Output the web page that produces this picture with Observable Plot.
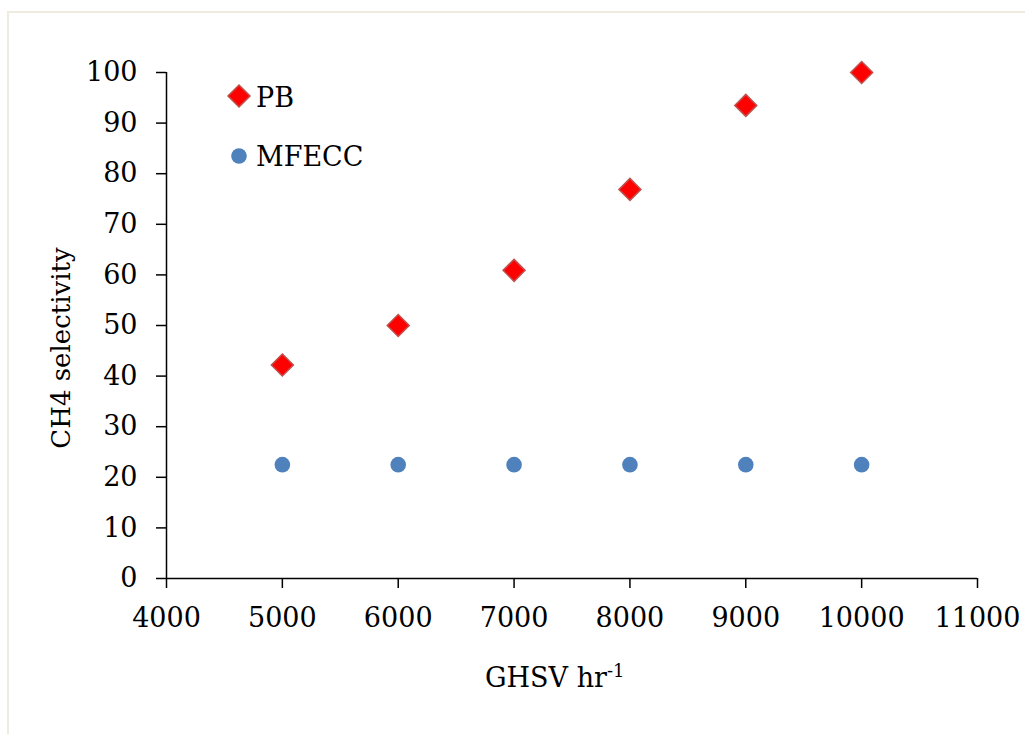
<!DOCTYPE html>
<html>
<head>
<meta charset="utf-8">
<script src="https://cdn.jsdelivr.net/npm/d3@7"></script>
<script src="https://cdn.jsdelivr.net/npm/@observablehq/plot@0.6"></script>
<style>
  html, body { margin: 0; padding: 0; background: #fff; }
  #wrap { position: relative; width: 1025px; height: 734px; overflow: hidden; }
  #frame { position: absolute; left: 7px; top: 11px; width: 1040px; height: 760px; border: 2px solid #eeebdf; box-sizing: border-box; }
  #chart { position: absolute; left: 0; top: 0; }
</style>
</head>
<body>
<div id="wrap"><div id="frame"></div><div id="chart"></div></div>
<script>
const ghsv = [5000, 6000, 7000, 8000, 9000, 10000];
const pbValues = [42.2, 50.0, 60.9, 76.9, 93.5, 100.0];
const mfeccValues = [22.5, 22.5, 22.5, 22.5, 22.5, 22.5];
const xTickValues = [4000, 5000, 6000, 7000, 8000, 9000, 10000, 11000];
const yTickValues = [0, 10, 20, 30, 40, 50, 60, 70, 80, 90, 100];
const seriesNames = ["PB", "MFECC"];
const xTitle = "GHSV hr";
const xTitleSup = "-1";
const yTitle = "CH4 selectivity";

const pb = ghsv.map((x, i) => ({x, y: pbValues[i]}));
const mfecc = ghsv.map((x, i) => ({x, y: mfeccValues[i]}));

const FONT = "DejaVu Serif";
const fmt = d => String(d);

const chart = Plot.plot({
  width: 1025,
  height: 734,
  marginLeft: 166,
  marginRight: 48,
  marginTop: 72,
  marginBottom: 156,
  style: {fontFamily: FONT, fontSize: "27px", color: "black", background: "transparent", overflow: "visible"},
  x: {domain: [4000, 11000]},
  y: {domain: [0, 100]},
  marks: [
    Plot.axisX({ticks: xTickValues, tickSize: 10, tickPadding: 19, tickFormat: fmt, label: null, fontSize: 27, strokeWidth: 1.5, stroke: "black", fill: "black"}),
    Plot.axisY({ticks: yTickValues, tickSize: 10, tickPadding: 19, tickFormat: fmt, label: null, fontSize: 27, strokeWidth: 1.5, stroke: "black", fill: "black"}),
    Plot.ruleX([4000], {stroke: "black", strokeWidth: 1.5}),
    Plot.ruleY([0], {stroke: "black", strokeWidth: 1.5}),
    Plot.dot(mfecc, {x: "x", y: "y", r: 7.8, fill: "#4f81bd", stroke: "none"}),
    Plot.dot(pb, {x: "x", y: "y", symbol: "diamond2", r: 9.9, fill: "#ff0000", stroke: "#c0504d", strokeWidth: 1.5})
  ]
});
document.getElementById("chart").appendChild(chart);

const svg = d3.select(chart);
// axis titles
const xt = svg.append("text")
  .attr("x", 485).attr("y", 687)
  .attr("text-anchor", "start")
  .attr("font-family", FONT).attr("font-size", 27).attr("fill", "black")
  .text(xTitle);
xt.append("tspan").attr("dy", -10).attr("font-size", 18).text(xTitleSup);

svg.append("text")
  .attr("transform", "translate(70,348) rotate(-90)")
  .attr("text-anchor", "middle")
  .attr("font-family", FONT).attr("font-size", 26).attr("fill", "black")
  .text(yTitle);

// legend
const lg = svg.append("g").attr("text-anchor", "start");
const sym = d3.symbol().type(d3.symbolDiamond2).size(Math.PI * 9.9 * 9.9);
lg.append("path").attr("d", sym()).attr("transform", "translate(239,96)")
  .attr("fill", "#ff0000").attr("stroke", "#c0504d").attr("stroke-width", 1.5);
lg.append("text").attr("x", 256).attr("y", 107).attr("text-anchor", "start")
  .attr("font-family", FONT).attr("font-size", 27).attr("fill", "black").text(seriesNames[0]);
lg.append("circle").attr("cx", 239).attr("cy", 156).attr("r", 7.8).attr("fill", "#4f81bd");
lg.append("text").attr("x", 256).attr("y", 166).attr("text-anchor", "start")
  .attr("font-family", FONT).attr("font-size", 27).attr("fill", "black").text(seriesNames[1]);
</script>
</body>
</html>
